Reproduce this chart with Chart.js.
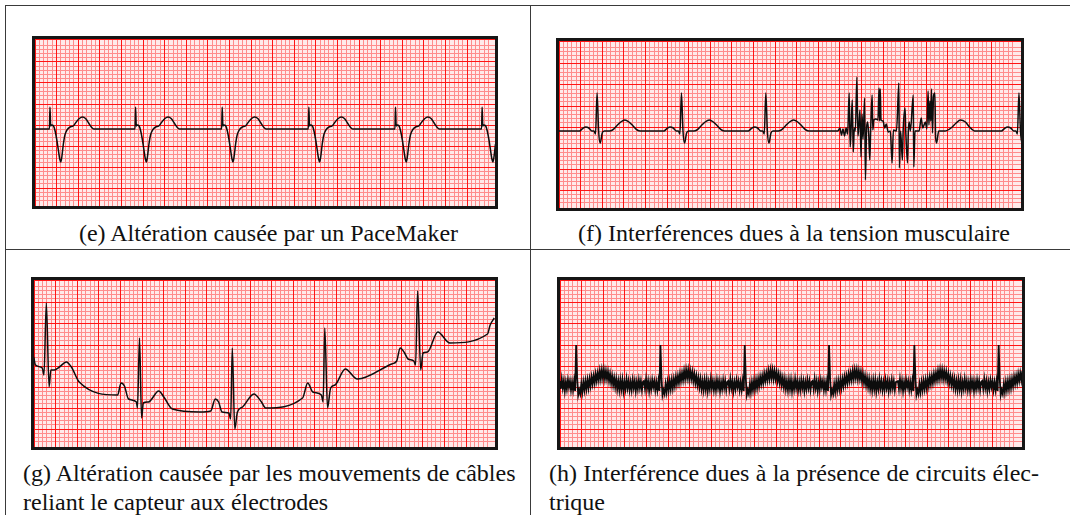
<!DOCTYPE html>
<html lang="fr">
<head>
<meta charset="UTF-8" />
<title>Altérations du signal ECG</title>
<style>
  body { margin: 0; background: #fff; }
  #page { position: relative; width: 1070px; height: 515px; overflow: hidden; background: #fff;
          font-family: "Liberation Serif", "Times New Roman", Times, "Nimbus Roman", "DejaVu Serif", "Noto Serif", serif;
          color: #111; }
  .rule { position: absolute; background: #3a3a3a; }
  .strip { position: absolute; border: 3px solid #161616; }
  .strip canvas { display: block; background: #ffeaea; }
  .cap { position: absolute; font-size: 24px; line-height: 24px; white-space: nowrap; }
  .center { text-align: center; }
  .just { text-align: justify; text-align-last: justify; }
</style>
</head>
<body>
<div id="page">
  <!-- table rules -->
  <div class="rule" style="left:5px;top:5px;width:1065px;height:1px"></div>
  <div class="rule" style="left:5px;top:249px;width:1065px;height:1px"></div>
  <div class="rule" style="left:5px;top:5px;width:1px;height:510px"></div>
  <div class="rule" style="left:530px;top:5px;width:1px;height:510px"></div>

  <div class="strip" style="left:32px;top:36px"><canvas id="ecgE" width="460" height="167"></canvas></div>
  <div class="strip" style="left:556px;top:38px"><canvas id="ecgF" width="462" height="167"></canvas></div>
  <div class="strip" style="left:31px;top:277px"><canvas id="ecgG" width="461" height="167"></canvas></div>
  <div class="strip" style="left:557px;top:277px"><canvas id="ecgH" width="462" height="167"></canvas></div>

  <div class="cap center" style="left:6px;width:525px;top:221px">(e) Altération causée par un PaceMaker</div>
  <div class="cap center" style="left:531px;width:526px;top:221px">(f) Interférences dues à la tension musculaire</div>
  <div class="cap just" style="left:23px;width:491px;top:461px">(g) Altération causée par les mouvements de câbles</div>
  <div class="cap" style="left:23px;top:490px">reliant le capteur aux électrodes</div>
  <div class="cap just" style="left:549px;width:490px;top:461px">(h) Interférence dues à la présence de circuits élec-</div>
  <div class="cap" style="left:549px;top:490px">trique</div>
</div>

<script src="https://cdn.jsdelivr.net/npm/chart.js"></script>
<script>
  // (e) paced rhythm: spike then wide negative complex and T wave
  const paceSpikes = [14, 97, 181, 265, 349, 433];
  const paceOffsets = [-30, -1, 0, 0.5, 1.2, 2, 4, 5.5, 7, 8.5, 10, 11, 12, 13.5, 15, 17, 20, 23, 26, 29, 32, 35, 38, 41, 43];
  const paceLevels  = [0, 0, 0, 22, 3, 4, 3, -2, -10, -20, -30, -33, -28, -15, -6, -1, 2, 3, 7, 10.5, 12, 10.5, 6, 1.5, 0];

  // (f) normal beats, then a burst of muscle artefact
  const muscleBeats = [38, 120, 202, 448];
  const muscleOffsets = [-40, -17, -14, -11, -8, -5, -3, -1.5, 0, 1.5, 3, 5, 7, 12, 15, 19, 23, 27, 31, 35, 39, 42];
  const muscleLevels  = [0, 0, 2.5, 4, 3, 0, 0, -3, 38, 0, -12, -2, 0, 0, 1, 5, 9, 11, 9, 5, 1, 0];
  const burstX = [272, 274, 275.5, 277, 278.5, 280, 281.5, 283, 284, 285,
                  286, 287, 288, 289, 290.5, 291.5, 292.5, 293.5, 294.5, 295.5,
                  296.5, 298, 298.8, 300, 301, 302, 303, 304, 305.3, 306,
                  307, 309, 311, 312, 312.6, 313.2, 314, 316, 317.5, 319,
                  321, 323, 324.7, 326, 329, 331.3, 331.8, 333, 334.7, 335.5,
                  337.3, 338, 339.7, 340.5, 341.3, 342.5, 345.3, 345.8, 347, 351,
                  353, 354.5, 357, 358.5, 359.7, 360.5, 361.5, 362.3, 363, 364,
                  365, 366.3, 367, 368, 370, 372];
  const burstY = [0, 3, -4, 2, -5, 3, -3, 38, -16, 5,
                  31, -21, 3, 0, 54, -5, 6, 21, -26, 17,
                  -8, 33, -49, 4, 9, -3, -29, 5, 36, 1,
                  11, 12, 11, 43, 10, 42, 11, 10, 3, 7,
                  -1, 0, -32, 1, 0, 48, -37, 0, -29, 1,
                  23, 0, -32, 0, 9, 0, 36, -36, 0, 0,
                  13, 3, 9, 2, 40, 6, 30, 10, 42, -2,
                  35, 38, -6, -12, 0, 0];
  const burstTailX = [376, 382, 387, 391, 396, 400, 405];
  const burstTailY = [0, 3, 8, 11, 9, 4, 0];

  // (g) wandering baseline from cable movement
  const cableX = [1, 2.7, 9.3, 11, 13.3, 16, 17.7, 21, 26, 32.7,
                  37.7, 45.3, 82.7, 86, 89.3, 93.3, 101, 102, 104, 106,
                  107.7, 112.7, 122.7, 127.7, 136, 162.7, 173.3, 177.7, 181, 184.3,
                  191, 192.7, 194.3, 196.7, 199.3, 204.3, 215.3, 222.7, 226.7, 262.7,
                  267.7, 272.7, 281, 282.7, 284.3, 287, 290, 294.3, 304.3, 316,
                  349.3, 354.3, 357.7, 362, 365.3, 371, 372.7, 374.7, 377.7, 380,
                  384.3, 394.3, 406, 442.7, 445.3, 449.3];
  const cableY = [92, 84, 81, 74, 146, 62, 79, 79, 82, 87,
                  82, 67, 54, 66, 63, 50, 47, 41, 111, 31,
                  46, 47, 58, 52, 40, 37, 38, 50, 47, 37,
                  36, 30, 101, 20, 37, 42, 55, 47, 41, 51,
                  66, 57, 54, 47, 121, 41, 61, 64, 80, 70,
                  85, 88, 101, 96, 90, 88, 84, 158, 79, 96,
                  97, 117, 106, 115, 124, 131];

  // (h) mains interference riding on each beat, one sample per unit from R-16
  const mainsBeats = [17, 99, 181, 263, 346, 428];
  const mainsFirst = -16;
  const mainsLevels = [4, -4, 6, -3, 4, -6, 3, -4, 5, -2, 4, -5, 3, -5, 4, -6,
                       40,
                       7, -10, -5, -9, 1, -7, 3, -5, 4, -4,
                       5, -3, 6, -1, 8, 1, 9, 2, 11, 4, 12, 5, 14, 6, 15,
                       7, 15, 6, 14, 6, 13, 4, 11, 2, 9, 0, 7, -2, 6, -4,
                       4, -5, 5, -4, 5, -6, 3, -4, 6, -3, 4, -5, 3, -5, 5,
                       -3, 4, -6, 3, -4, 5, -3, 4, -5, 3];

  // paper grid, in canvas pixels
  const FINE_X = 4.32, MAJOR_X = 21.6;
  const FINE_Y = 4.2, MAJOR_Y = 21;
  const GRID_Y_PHASE = 18;
  const FINE_COLOR = '#ff8c8c';
  const MAJOR_COLOR = '#ff1414';

  function gridAxis(position, min, max, step, color, z) {
    return {
      type: 'linear', position, min, max,
      ticks: { display: false, stepSize: step, maxTicksLimit: 1000 },
      grid: { color, lineWidth: 1, drawTicks: false, z },
      border: { display: false }
    };
  }

  function beatPoints(onsets, offsets, levels) {
    const pts = [];
    onsets.forEach(t => offsets.forEach((o, i) => pts.push({ x: t + o, y: levels[i] })));
    return pts;
  }

  function pairs(xs, ys) {
    return xs.map((x, i) => ({ x, y: ys[i] }));
  }

  function strip(id, points, xRange, yRange, smooth, width) {
    const cv = document.getElementById(id);
    const w = cv.width, h = cv.height;
    return new Chart(cv, {
      type: 'line',
      data: {
        datasets: [{
          data: points,
          xAxisID: 'x', yAxisID: 'y',
          borderColor: '#0d0d0d',
          borderWidth: width,
          pointRadius: 0,
          fill: false,
          tension: 0,
          cubicInterpolationMode: smooth ? 'monotone' : 'default'
        }]
      },
      options: {
        responsive: false,
        animation: false,
        devicePixelRatio: 1,
        events: [],
        layout: { padding: 0 },
        plugins: { legend: { display: false }, tooltip: { enabled: false } },
        scales: {
          x: { type: 'linear', display: false, min: xRange[0], max: xRange[1] },
          y: { type: 'linear', display: false, min: yRange[0], max: yRange[1] },
          gxFine: gridAxis('bottom', 0, w, FINE_X, FINE_COLOR, -3),
          gxMajor: gridAxis('bottom', 0, w, MAJOR_X, MAJOR_COLOR, -2),
          gyFine: gridAxis('left', -GRID_Y_PHASE, h - GRID_Y_PHASE, FINE_Y, FINE_COLOR, -3),
          gyMajor: gridAxis('left', -GRID_Y_PHASE, h - GRID_Y_PHASE, MAJOR_Y, MAJOR_COLOR, -2)
        }
      }
    });
  }

  // (e)
  strip('ecgE', beatPoints(paceSpikes, paceOffsets, paceLevels), [0, 446], [-77, 90], true, 1.5);

  // (f)
  const musclePts = beatPoints(muscleBeats, muscleOffsets, muscleLevels)
    .concat(pairs(burstX, burstY), pairs(burstTailX, burstTailY))
    .sort((a, b) => a.x - b.x);
  strip('ecgF', musclePts, [1, 450], [-77, 90], true, 1.5);

  // (g)
  strip('ecgG', pairs(cableX, cableY), [1.3, 450], [2, 169], true, 1.5);

  // (h)
  const mainsPts = [];
  mainsBeats.forEach(r => mainsLevels.forEach((v, i) => mainsPts.push({ x: r + mainsFirst + i, y: v })));
  strip('ecgH', mainsPts, [1.3, 450.7], [-62, 105], false, 1.8);
</script>
</body>
</html>
